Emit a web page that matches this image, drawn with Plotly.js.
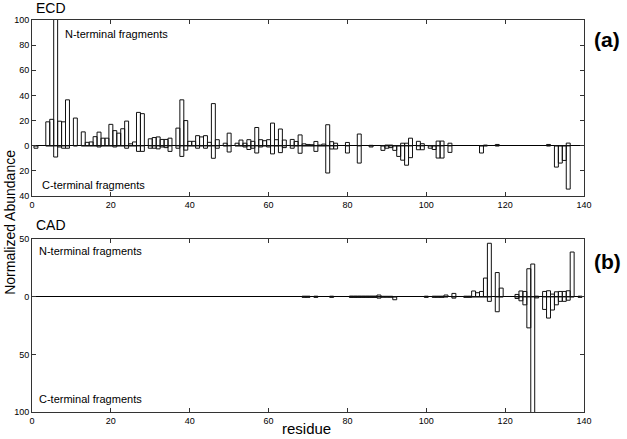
<!DOCTYPE html>
<html>
<head>
<meta charset="utf-8">
<script src="https://cdn.plot.ly/plotly-3.0.1.min.js"></script>
<style>html,body{margin:0;padding:0;background:#fff;}#chart{width:627px;height:439px;}</style>
</head>
<body>
<div id="chart"></div>
<script>
// ECD panel (a): residue, N-terminal abundance (up), C-terminal abundance (down, negative)
const ecdRes = [1,4,5,6,7,8,9,11,13,14,15,16,17,18,19,20,21,22,23,24,25,26,27,28,30,31,32,33,34,35,37,38,39,40,41,42,43,44,45,46,47,49,50,52,53,54,55,56,57,58,59,60,61,62,63,64,66,67,68,69,70,71,72,73,74,75,76,77,80,83,86,89,90,91,92,93,94,95,96,98,99,101,102,103,104,106,114,115,118,131,133,134,135,136];
const ecdN = [0,19,21,116,19.5,19,36.5,22,11,2.7,3,7.2,10.8,6,6,17,12,10,13.5,19.6,1.5,3,26.5,25.5,5.5,6.5,7,5,5,6,14,36.5,20,3.5,3.5,8,7,8,2.7,33.5,4.8,2,10,2,4.5,2,4.8,3.5,14.5,4.8,4,4.8,18,4.8,13.3,4.5,5,3.4,8.6,1.5,1,0.8,3.4,0.5,1.3,16.7,3.2,2,2.6,9.3,0.3,0,0.5,0.5,0,0,2,2,6,3.5,1.6,0,0,3.7,3.7,2,0,0.5,1,1,0,0,0,2.1];
const ecdC = [-2,0,0,-9,-1,-2,-2,0,0,0,0,0,-1,0,0,0,-1,0,0,-2,0,0,-4.5,-4.5,-2,-2,-2.5,-1,-1.5,-4.5,-2,-8.5,-3.5,0,0,-2,0,-2,0,-10,-2,0,-5,0,0,-1,-3,-2,-5.8,-1,0,-1,-6.5,0,-5.5,-1.5,-2,0,-6,0,0,0,-4.5,0,0,-21.7,-2.6,-2.6,-5.8,-13.8,-1,-3.7,-2,-1.5,-3.7,-8.5,-11.5,-15.5,-9.5,-3.2,-3.2,-2,-3,-9.8,-9.8,-5.3,-5.8,0,0,0,-17,-13.8,-11.7,-34.5];

// CAD panel (b)
const cadRes = [69,70,72,76,81,82,83,84,85,86,87,88,89,90,91,92,100,102,103,104,105,107,110,111,112,113,114,115,116,118,119,123,124,125,126,127,128,130,131,132,133,134,135,136,137,139];
const cadN = [0.5,0.5,0.5,0.5,0.6,0.6,0.6,0.6,0.6,0.6,0.6,1.5,0.4,0.4,0.4,0,0.5,0.5,0.5,0.5,1.5,2.9,0.5,0.5,5,3.5,4.6,16.2,46.4,21,7.5,2,5,4.6,24.3,28.4,0.5,4.6,5.2,2.3,4.3,4.6,4.6,5.2,38.8,0.5];
const cadC = [-0.5,-0.5,-0.5,-0.5,-0.6,-0.6,-0.6,-0.6,-0.6,-0.6,-0.6,-1.2,-0.4,-0.4,-0.4,-2.6,-0.5,-0.5,-0.5,-0.5,0,-1.2,-0.5,-0.5,0,0,0,0,-4,-13,0,-1.5,-3.5,-7,-27,-105,-1,-11,-18.5,-11.5,-7,-4,-4,-3,0,-0.5];

// Tick labels
const xTicks = [0,20,40,60,80,100,120,140];
const ecdYTickVals = [100,80,60,40,20,0,-20,-40];
const ecdYTickText = ['100','80','60','40','20','0','20','40'];
const cadYTickVals = [50,0,-50,-100];
const cadYTickText = ['50','0','50','100'];

const FONT = 'Liberation Sans, Arial, sans-serif';
function barTrace(x, y, xa, ya) {
  return {
    type: 'bar', x: x, y: y, width: 1, xaxis: xa, yaxis: ya,
    marker: {color: 'rgba(0,0,0,0)', line: {color: '#111', width: 1}},
    cliponaxis: false, hoverinfo: 'none', showlegend: false
  };
}
const data = [
  barTrace(ecdRes, ecdN, 'x', 'y'),
  barTrace(ecdRes, ecdC, 'x', 'y'),
  barTrace(cadRes, cadN, 'x2', 'y2'),
  barTrace(cadRes, cadC, 'x2', 'y2')
];

const axBase = {
  showgrid: false, showline: true, linecolor: '#333', linewidth: 1, mirror: 'ticks',
  ticks: 'inside', ticklen: 4, tickcolor: '#333', tickwidth: 1,
  tickfont: {family: FONT, size: 9, color: '#000'}
};
const layout = {
  width: 627, height: 439,
  margin: {l: 32, r: 43, t: 20, b: 27},
  paper_bgcolor: '#fff', plot_bgcolor: '#fff',
  barmode: 'overlay', showlegend: false,
  font: {family: FONT, color: '#000'},
  xaxis: Object.assign({}, axBase, {domain: [0, 1], range: [0, 140], anchor: 'y', tickvals: xTicks, zeroline: false}),
  yaxis: Object.assign({}, axBase, {domain: [0.551, 1], range: [-40, 100], anchor: 'x', tickvals: ecdYTickVals, ticktext: ecdYTickText, zeroline: true, zerolinecolor: '#000', zerolinewidth: 1}),
  xaxis2: Object.assign({}, axBase, {domain: [0, 1], range: [0, 140], anchor: 'y2', tickvals: xTicks, zeroline: false}),
  yaxis2: Object.assign({}, axBase, {domain: [0, 0.441], range: [-100, 50], anchor: 'x2', tickvals: cadYTickVals, ticktext: cadYTickText, zeroline: true, zerolinecolor: '#000', zerolinewidth: 1}),
  annotations: [
    {text: 'ECD', xref: 'paper', yref: 'paper', x: 0.004, y: 1.031, xanchor: 'left', yanchor: 'middle', showarrow: false, font: {size: 14}},
    {text: 'CAD', xref: 'paper', yref: 'paper', x: 0.004, y: 0.477, xanchor: 'left', yanchor: 'middle', showarrow: false, font: {size: 14}},
    {text: 'N-terminal fragments', xref: 'paper', yref: 'paper', x: 0.056, y: 0.964, xanchor: 'left', yanchor: 'middle', showarrow: false, font: {size: 11}},
    {text: 'C-terminal fragments', xref: 'paper', yref: 'paper', x: 0.0145, y: 0.579, xanchor: 'left', yanchor: 'middle', showarrow: false, font: {size: 11}},
    {text: 'N-terminal fragments', xref: 'paper', yref: 'paper', x: 0.009, y: 0.411, xanchor: 'left', yanchor: 'middle', showarrow: false, font: {size: 11}},
    {text: 'C-terminal fragments', xref: 'paper', yref: 'paper', x: 0.009, y: 0.033, xanchor: 'left', yanchor: 'middle', showarrow: false, font: {size: 11}},
    {text: '<b>(a)</b>', xref: 'paper', yref: 'paper', x: 1.0417, y: 0.95, xanchor: 'center', yanchor: 'middle', showarrow: false, font: {size: 21}},
    {text: '<b>(b)</b>', xref: 'paper', yref: 'paper', x: 1.0417, y: 0.383, xanchor: 'center', yanchor: 'middle', showarrow: false, font: {size: 21}},
    {text: 'Normalized Abundance', xref: 'paper', yref: 'paper', x: -0.04, y: 0.485, xanchor: 'center', yanchor: 'middle', textangle: -90, showarrow: false, font: {size: 14}},
    {text: 'residue', xref: 'paper', yref: 'paper', x: 0.498, y: -0.041, xanchor: 'center', yanchor: 'middle', showarrow: false, font: {size: 15}}
  ]
};
Plotly.newPlot('chart', data, layout, {staticPlot: true, displayModeBar: false});
</script>
</body>
</html>
